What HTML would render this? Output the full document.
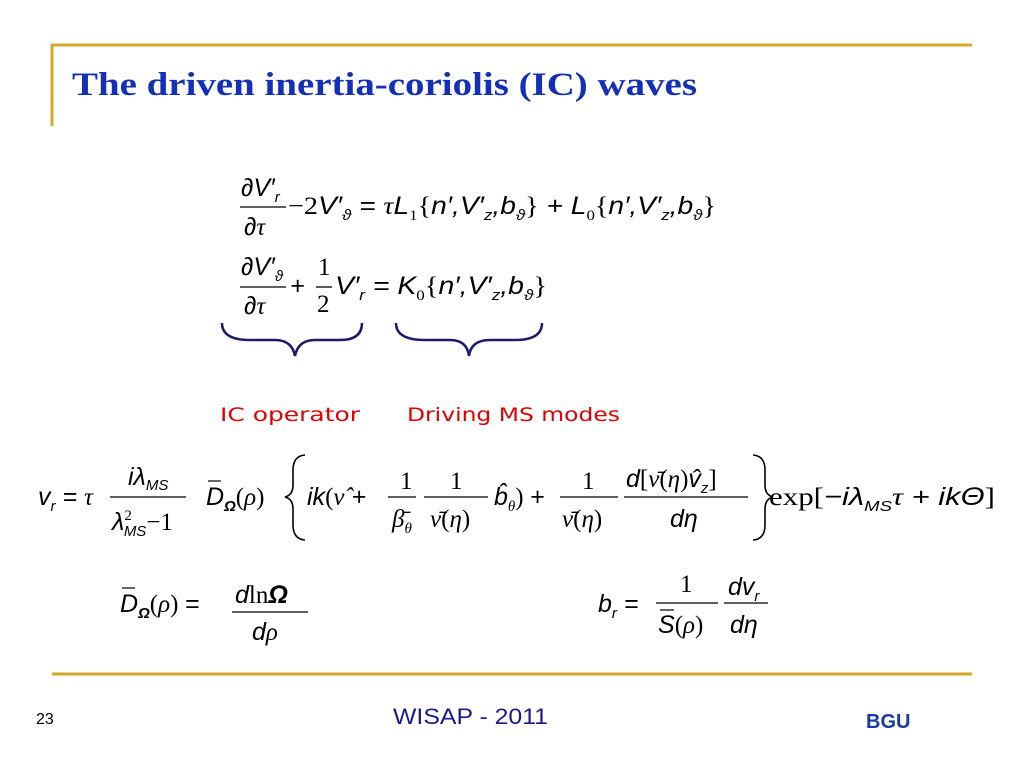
<!DOCTYPE html>
<html><head><meta charset="utf-8"><style>
body{margin:0;background:#fff}
svg{display:block}
.m{font-family:"Liberation Sans",sans-serif;font-style:italic;fill:#000}
.s{font-family:"Liberation Serif",serif;font-style:italic;fill:#000}
.n{font-family:"Liberation Serif",serif;font-style:normal;fill:#000}
</style></head><body>
<svg width="1024" height="768" viewBox="0 0 1024 768">
<line x1="51" y1="45" x2="972" y2="45" stroke="#d4a82a" stroke-width="3"/>
<line x1="52" y1="45" x2="52" y2="126" stroke="#d4a82a" stroke-width="3"/>
<text x="72" y="95" font-family="Liberation Serif,serif" font-weight="bold" font-size="33" fill="#1530b8" textLength="625" lengthAdjust="spacingAndGlyphs">The driven inertia-coriolis (IC) waves</text>

<g font-size="25">
<text x="241" y="196" class="m">∂V′<tspan font-size="15" dy="6">r</tspan></text>
<line x1="240" y1="207" x2="286" y2="207" stroke="#000" stroke-width="1.3"/>
<text x="244" y="235" class="m">∂<tspan class="s">τ</tspan></text>
<text x="288" y="214" class="m" textLength="428" lengthAdjust="spacingAndGlyphs"><tspan class="n">−2</tspan>V′<tspan font-size="15" dy="6">ϑ</tspan><tspan dy="-6"> = </tspan><tspan class="s" fill="#e00000">τ</tspan>L<tspan class="n" font-size="15" dy="6">1</tspan><tspan class="n" dy="-6">{</tspan>n′,V′<tspan font-size="15" dy="6">z</tspan><tspan dy="-6">,b</tspan><tspan font-size="15" dy="6">ϑ</tspan><tspan class="n" dy="-6">}</tspan> + L<tspan class="n" font-size="15" dy="6">0</tspan><tspan class="n" dy="-6">{</tspan>n′,V′<tspan font-size="15" dy="6">z</tspan><tspan dy="-6">,b</tspan><tspan font-size="15" dy="6">ϑ</tspan><tspan class="n" dy="-6">}</tspan></text>
</g>

<g font-size="25">
<text x="241" y="275" class="m">∂V′<tspan font-size="15" dy="6">ϑ</tspan></text>
<line x1="240" y1="287" x2="286" y2="287" stroke="#000" stroke-width="1.3"/>
<text x="244" y="314" class="m">∂<tspan class="s">τ</tspan></text>
<text x="290" y="294" class="m">+</text>
<text x="318" y="275" class="n">1</text>
<line x1="316" y1="287" x2="332" y2="287" stroke="#000" stroke-width="1.3"/>
<text x="317" y="312" class="n">2</text>
<text x="335" y="294" class="m" textLength="212" lengthAdjust="spacingAndGlyphs">V′<tspan font-size="15" dy="6">r</tspan><tspan dy="-6"> = K</tspan><tspan class="n" font-size="15" dy="6">0</tspan><tspan class="n" dy="-6">{</tspan>n′,V′<tspan font-size="15" dy="6">z</tspan><tspan dy="-6">,b</tspan><tspan font-size="15" dy="6">ϑ</tspan><tspan class="n" dy="-6">}</tspan></text>
</g>

<path d="M222 323 Q222 340 250 340 L275 340 Q292 340 295 356 Q298 340 315 340 L340 340 Q362 340 362 323" fill="none" stroke="#1a1a6e" stroke-width="2.5"/>
<path d="M396 323 Q396 340 425 340 L450 340 Q467 340 469 356 Q471 340 490 340 L515 340 Q542 340 542 323" fill="none" stroke="#1a1a6e" stroke-width="2.5"/>
<text x="220" y="421" font-family="DejaVu Sans,sans-serif" font-size="19" fill="#e00000" textLength="140" lengthAdjust="spacingAndGlyphs">IC operator</text>
<text x="407" y="421" font-family="DejaVu Sans,sans-serif" font-size="19" fill="#e00000" textLength="213" lengthAdjust="spacingAndGlyphs">Driving MS modes</text>

<g font-size="25">
<text x="38" y="505" class="m">v<tspan font-size="15" dy="6">r</tspan><tspan dy="-6"> = </tspan><tspan class="s" fill="#e00000">τ</tspan></text>
<text x="128" y="485" class="m">iλ<tspan font-size="15" dy="5">MS</tspan></text>
<line x1="110" y1="497" x2="186" y2="497" stroke="#000" stroke-width="1.3"/>
<text x="112" y="530" class="m">λ<tspan class="n" font-size="15" dy="-10">2</tspan><tspan font-size="15" dx="-8" dy="16">MS</tspan><tspan class="n" dy="-6">−1</tspan></text>
<text x="206" y="505" class="m">D<tspan font-size="15" dy="6" font-weight="bold">Ω</tspan><tspan class="n" dy="-6">(</tspan><tspan class="s">ρ</tspan><tspan class="n">)</tspan></text>
<line x1="208" y1="481" x2="221" y2="481" stroke="#000" stroke-width="1.2"/>
<path d="M305 455 Q293 456 293 470 L293 485 Q293 495 285 497 Q293 499 293 509 L293 525 Q293 539 305 540" fill="none" stroke="#000" stroke-width="1.6"/>
<text x="307" y="505" class="m">ik<tspan class="n">(</tspan><tspan class="s">ν̂</tspan> +</text>
<text x="400" y="489" class="n">1</text>
<line x1="388" y1="497" x2="416" y2="497" stroke="#000" stroke-width="1.3"/>
<text x="392" y="527" class="s">β̄<tspan font-size="15" dy="6">θ</tspan></text>
<text x="450" y="489" class="n">1</text>
<line x1="424" y1="497" x2="488" y2="497" stroke="#000" stroke-width="1.3"/>
<text x="430" y="527" class="s">ν̄<tspan class="n">(</tspan>η<tspan class="n">)</tspan></text>
<text x="494" y="505" class="m">b̂<tspan class="s" font-size="15" dy="6">θ</tspan><tspan class="n" dy="-6">) </tspan>+</text>
<text x="582" y="489" class="n">1</text>
<line x1="560" y1="497" x2="618" y2="497" stroke="#000" stroke-width="1.3"/>
<text x="562" y="527" class="s">ν̄<tspan class="n">(</tspan>η<tspan class="n">)</tspan></text>
<text x="626" y="487" class="m">d<tspan class="n">[</tspan><tspan class="s">ν̄</tspan><tspan class="n">(</tspan><tspan class="s">η</tspan><tspan class="n">)</tspan>v̂<tspan font-size="15" dy="6">z</tspan><tspan class="n" dy="-6">]</tspan></text>
<line x1="624" y1="497" x2="748" y2="497" stroke="#000" stroke-width="1.3"/>
<text x="670" y="527" class="m">dη</text>
<path d="M753 455 Q765 456 765 470 L765 485 Q765 495 773 497 Q765 499 765 509 L765 525 Q765 539 753 540" fill="none" stroke="#000" stroke-width="1.6"/>
<text x="769" y="505" class="n" textLength="226" lengthAdjust="spacingAndGlyphs">exp[<tspan class="m">−iλ</tspan><tspan class="m" font-size="15" dy="6">MS</tspan><tspan class="s" dy="-6">τ</tspan><tspan class="m"> + ikΘ</tspan>]</text>
</g>

<g font-size="25">
<text x="120" y="612" class="m">D<tspan font-size="15" dy="6" font-weight="bold">Ω</tspan><tspan class="n" dy="-6">(</tspan><tspan class="s">ρ</tspan><tspan class="n">) </tspan>=</text>
<line x1="122" y1="588" x2="135" y2="588" stroke="#000" stroke-width="1.2"/>
<text x="235" y="603" class="m">d<tspan class="n">ln</tspan><tspan font-weight="bold">Ω</tspan></text>
<line x1="232" y1="612" x2="308" y2="612" stroke="#000" stroke-width="1.3"/>
<text x="252" y="640" class="m">d<tspan class="s">ρ</tspan></text>
</g>

<g font-size="25">
<text x="598" y="612" class="m">b<tspan font-size="15" dy="6">r</tspan><tspan dy="-6"> =</tspan></text>
<text x="680" y="592" class="n">1</text>
<line x1="656" y1="603" x2="718" y2="603" stroke="#000" stroke-width="1.3"/>
<text x="658" y="633" class="m">S<tspan class="n">(</tspan><tspan class="s">ρ</tspan><tspan class="n">)</tspan></text>
<line x1="660" y1="610" x2="674" y2="610" stroke="#000" stroke-width="1.2"/>
<text x="728" y="595" class="m">dv<tspan font-size="15" dy="6">r</tspan></text>
<line x1="724" y1="603" x2="768" y2="603" stroke="#000" stroke-width="1.3"/>
<text x="730" y="633" class="m">dη</text>
</g>

<line x1="52" y1="674" x2="972" y2="674" stroke="#d4a82a" stroke-width="3"/>
<text x="36" y="724" font-family="Liberation Sans,sans-serif" font-size="16" fill="#000">23</text>
<text x="393" y="724" font-family="Liberation Sans,sans-serif" font-size="22" fill="#1a1a8c" textLength="155" lengthAdjust="spacingAndGlyphs">WISAP - 2011</text>
<text x="866" y="728" font-family="Liberation Sans,sans-serif" font-size="20" font-weight="bold" fill="#1a3aa8">BGU</text>
</svg>
</body></html>
